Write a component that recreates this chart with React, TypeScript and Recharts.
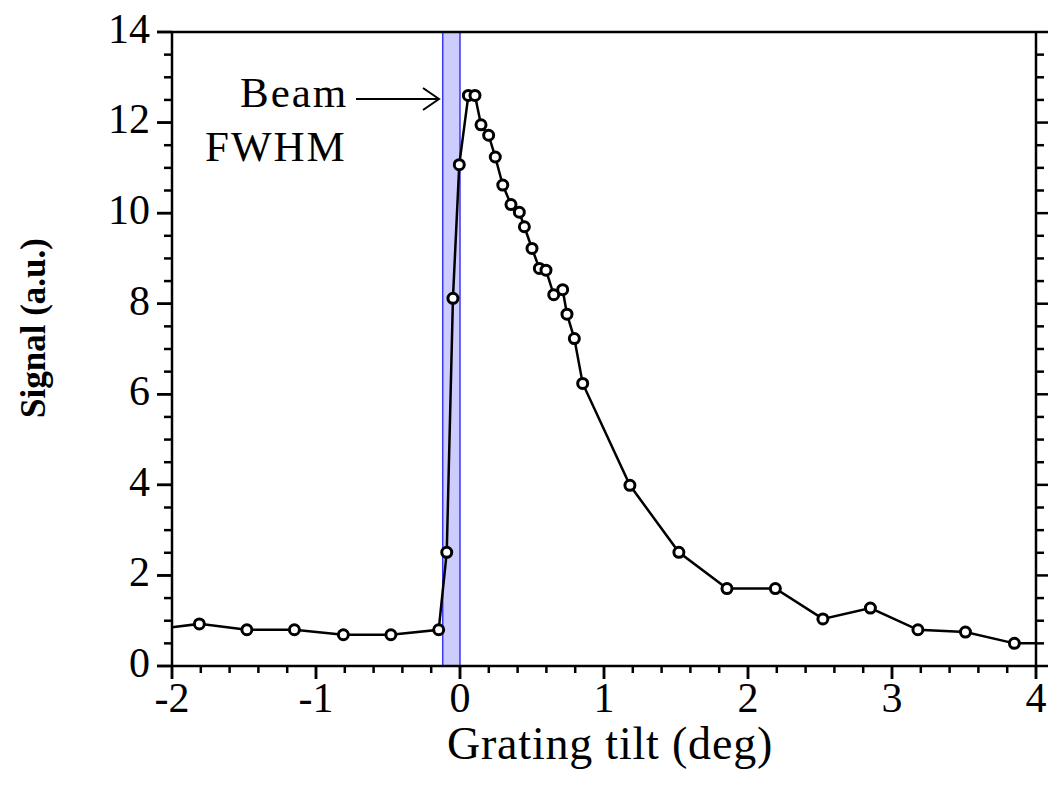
import React from 'react'
import { ComposedChart, Line, XAxis, YAxis, ReferenceArea, ReferenceLine } from 'recharts'

// grating tilt (deg) and measured signal (a.u.)
const tilt = [
  -2.15, -1.81, -1.48, -1.15, -0.81, -0.48, -0.148, -0.092, -0.049, -0.005,
  0.058, 0.104, 0.146, 0.199, 0.245, 0.297, 0.354, 0.412, 0.447, 0.5,
  0.551, 0.597, 0.651, 0.713, 0.743, 0.794, 0.852, 1.18, 1.52, 1.854,
  2.19, 2.52, 2.85, 3.18, 3.51, 3.85, 4.18,
]
const signal = [
  0.8, 0.93, 0.8, 0.8, 0.69, 0.69, 0.8, 2.51, 8.12, 11.07,
  12.6, 12.6, 11.95, 11.72, 11.24, 10.62, 10.19, 10.02, 9.7, 9.22,
  8.78, 8.74, 8.2, 8.31, 7.77, 7.23, 6.24, 3.99, 2.51, 1.71,
  1.71, 1.04, 1.28, 0.8, 0.75, 0.5, 0.5,
]

const xMajor = [-2, -1, 0, 1, 2, 3, 4]
const yMajor = [0, 2, 4, 6, 8, 10, 12, 14]
const beamFwhm = [-0.12, 0]

const xMinor = Array.from({ length: 31 }, (_, i) => Math.round((-2 + i * 0.2) * 10) / 10)
const yMinor = Array.from({ length: 29 }, (_, i) => i * 0.5)

const data = tilt.map((t, i) => ({ t, s: signal[i] }))

const FONT = '"Liberation Serif", "Times New Roman", serif'
const axisStroke = { stroke: '#000', strokeWidth: 2.5 }
const isMajor = (v: number, list: number[]) => list.some((m) => Math.abs(m - v) < 1e-6)

// plot box (from chart margins + axis sizes)
const W = 1049
const H = 791
const LEFT = 172
const RIGHT = W - 13
const TOP = 32
const BOTTOM = H - 125
const PX_X = (RIGHT - LEFT) / 6
const PX_Y = (BOTTOM - TOP) / 14
const toX = (v: number) => LEFT + (v + 2) * PX_X
const toY = (v: number) => BOTTOM - v * PX_Y

function Marker({ cx, cy }: any) {
  if (cx == null || cy == null) return null
  return <circle cx={cx} cy={cy} r={5} fill="#fff" stroke="#000" strokeWidth={3} />
}

export default function App() {
  return (
    <div style={{ position: 'absolute', left: 0, top: 0, width: W, height: H, background: '#fff' }}>
      <ComposedChart width={W} height={H} data={data} margin={{ top: TOP, right: W - RIGHT, bottom: 0, left: 0 }}>
        <XAxis
          dataKey="t"
          type="number"
          domain={[-2, 4]}
          allowDataOverflow
          ticks={xMajor}
          interval={0}
          height={H - BOTTOM}
          tickSize={13}
          tickMargin={3}
          tickLine={axisStroke}
          tick={{ fontSize: 42, fontFamily: FONT, fill: '#000' }}
          axisLine={axisStroke}
        />
        <YAxis
          type="number"
          domain={[0, 14]}
          ticks={yMajor}
          interval={0}
          width={LEFT}
          tickSize={15}
          tickMargin={7}
          tickLine={axisStroke}
          tick={{ fontSize: 42, fontFamily: FONT, fill: '#000', dy: -4 }}
          axisLine={axisStroke}
        />
        <ReferenceArea
          x1={beamFwhm[0]}
          x2={beamFwhm[1]}
          y1={0}
          y2={14}
          fill="#ccccff"
          fillOpacity={1}
          stroke="#3838f0"
          strokeWidth={1.5}
          strokeOpacity={1}
        />
        {/* frame: top and right */}
        <ReferenceLine y={14} ifOverflow="visible" stroke="#000" strokeWidth={2.5} />
        <ReferenceLine x={4} ifOverflow="visible" stroke="#000" strokeWidth={2.5} />
        {/* ticks, right */}
        {yMinor.map((v) => (
          <ReferenceLine
            key={'r' + v}
            segment={[{ x: 4, y: v }, { x: 4 + (isMajor(v, yMajor) ? 12 : 8) / PX_X, y: v }]}
            ifOverflow="visible"
            stroke="#000"
            strokeWidth={2.5}
          />
        ))}
        <Line
          dataKey="s"
          type="linear"
          stroke="#000"
          strokeWidth={2.5}
          dot={<Marker />}
          activeDot={false}
          isAnimationActive={false}
        />
      </ComposedChart>
      <svg width={W} height={H} style={{ position: 'absolute', left: 0, top: 0, pointerEvents: 'none' }}>
        {/* bottom and left tick marks */}
        {xMinor.map((v) => (
          <line
            key={'bx' + v}
            x1={toX(v)}
            x2={toX(v)}
            y1={BOTTOM}
            y2={BOTTOM + (isMajor(v, xMajor) ? 13 : 7)}
            stroke="#000"
            strokeWidth={2.5}
          />
        ))}
        {yMinor.map((v) => (
          <line
            key={'ly' + v}
            x1={LEFT - (isMajor(v, yMajor) ? 15 : 8)}
            x2={LEFT}
            y1={toY(v)}
            y2={toY(v)}
            stroke="#000"
            strokeWidth={2.5}
          />
        ))}
        <text x={240} y={107} fontSize={43} letterSpacing={2} fontFamily={FONT} fill="#000">Beam</text>
        <text x={205} y={161} fontSize={43} letterSpacing={2} fontFamily={FONT} fill="#000">FWHM</text>
        <line x1={356} y1={99} x2={438} y2={99} stroke="#000" strokeWidth={2} />
        <polyline points="423,88 439,99 423,110" fill="none" stroke="#000" strokeWidth={2} />
        <text x={610} y={759} textAnchor="middle" fontSize={46} letterSpacing={0.8} fontFamily={FONT} fill="#000">
          Grating tilt (deg)
        </text>
        <text
          x={0}
          y={0}
          transform="translate(45, 328) rotate(-90)"
          textAnchor="middle"
          fontSize={35}
          fontWeight="bold"
          fontFamily={FONT}
          fill="#000"
        >
          Signal (a.u.)
        </text>
      </svg>
    </div>
  )
}
